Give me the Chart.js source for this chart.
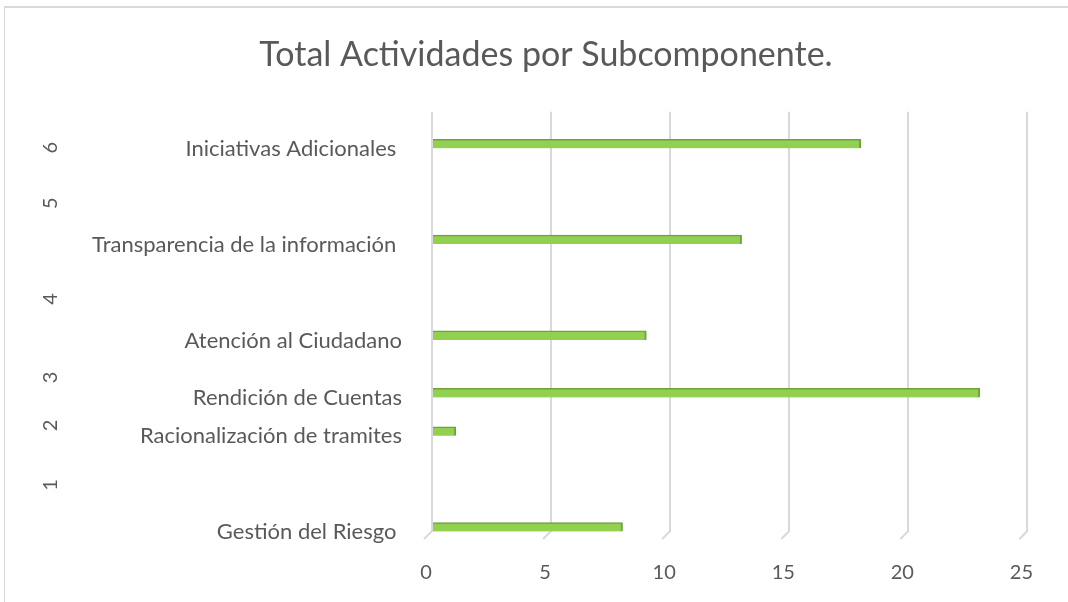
<!DOCTYPE html>
<html><head><meta charset="utf-8">
<script src="https://cdn.jsdelivr.net/npm/chart.js@4/dist/chart.umd.min.js"></script>
<style>
html,body{margin:0;padding:0;background:#fff;overflow:hidden;width:1068px;height:602px;}
#frame{position:absolute;left:4px;top:6px;width:1200px;height:700px;border-top:2px solid #d9d9d9;border-left:1px solid #d9d9d9;}
canvas{position:absolute;left:0;top:0;}
</style></head><body>
<div id="frame"></div>
<canvas id="c" width="1068" height="602"></canvas>
<script>
// Data (bottom to top)
const categories = ['Gestión del Riesgo ', 'Racionalización de tramites', 'Rendición de Cuentas', 'Atención al Ciudadano', 'Transparencia de la información ', 'Iniciativas Adicionales '];
const rowPositions = [0, 5, 7, 10, 15, 20];
const activities = [8, 1, 23, 9, 13, 18];
const xTickValues = [0, 5, 10, 15, 20, 25];
const groupNumbers = ['1', '2', '3', '4', '5', '6'];
const groupPositions = [2.2, 5.3, 7.8, 11.9, 16.9, 19.8];

const TEXT = '#595959';
const FONT = 'Lato';
const GRID = '#d9d9d9';

// small 3D "floor" slant at the foot of each vertical gridline
const floorPlugin = {
  id: 'floor',
  beforeDatasetsDraw(chart) {
    const { ctx, chartArea, scales } = chart;
    ctx.save();
    ctx.strokeStyle = GRID;
    ctx.lineWidth = 2;
    scales.x.ticks.forEach(t => {
      const px = scales.x.getPixelForValue(t.value);
      ctx.beginPath();
      ctx.moveTo(px, chartArea.bottom - 1);
      ctx.lineTo(px - 8, chartArea.bottom + 7);
      ctx.stroke();
    });
    ctx.restore();
  }
};

new Chart(document.getElementById('c'), {
  type: 'bar',
  data: {
    datasets: [{
      data: rowPositions.map((p, i) => ({ x: activities[i], y: p })),
      backgroundColor: '#92D050',
      borderColor: '#6FA23C',
      borderWidth: { top: 1.5, right: 2, bottom: 0, left: 0 },
      borderSkipped: false,
      barThickness: 9
    }]
  },
  plugins: [floorPlugin],
  options: {
    indexAxis: 'y',
    responsive: false,
    animation: false,
    devicePixelRatio: 1,
    layout: { padding: { left: 24, right: 0, top: 0, bottom: 20 } },
    plugins: {
      legend: { display: false },
      tooltip: { enabled: false },
      title: {
        display: true,
        text: 'Total Actividades por Subcomponente.',
        color: TEXT,
        font: { family: FONT, size: 34, weight: 'normal', lineHeight: 1.2 },
        padding: { top: 35, bottom: 36 }
      }
    },
    scales: {
      x: {
        type: 'linear',
        min: 0,
        max: 26.68,
        afterBuildTicks: s => { s.ticks = xTickValues.map(v => ({ value: v })); },
        afterFit: s => { s.height = 50; },
        ticks: { padding: 29, labelOffset: -6, color: TEXT, font: { family: FONT, size: 20 }, callback: v => String(v) },
        grid: { color: GRID, lineWidth: 2, drawTicks: false },
        border: { display: false }
      },
      y: {
        type: 'linear',
        position: 'left',
        weight: 0,
        offset: false,
        min: -0.26,
        max: 21.67,
        afterBuildTicks: s => { s.ticks = rowPositions.map(v => ({ value: v })); },
        afterFit: s => { s.width = 362; },
        ticks: { autoSkip: false, padding: 30, labelOffset: 5, color: TEXT, font: { family: FONT, size: 22 }, callback: (v, i) => categories[i] },
        grid: { display: false, drawTicks: false, offset: false },
        border: { display: false }
      },
      yNum: {
        type: 'linear',
        position: 'left',
        weight: 1,
        offset: false,
        min: -0.26,
        max: 21.67,
        afterBuildTicks: s => { s.ticks = groupPositions.map(v => ({ value: v })); },
        afterFit: s => { s.width = 46; },
        ticks: { autoSkip: false, minRotation: 90, maxRotation: 90, crossAlign: 'center', padding: 14, color: TEXT, font: { family: FONT, size: 20 }, callback: (v, i) => groupNumbers[i] },
        grid: { display: false, drawTicks: false, offset: false },
        border: { display: false }
      }
    }
  }
});
</script>
</body></html>
